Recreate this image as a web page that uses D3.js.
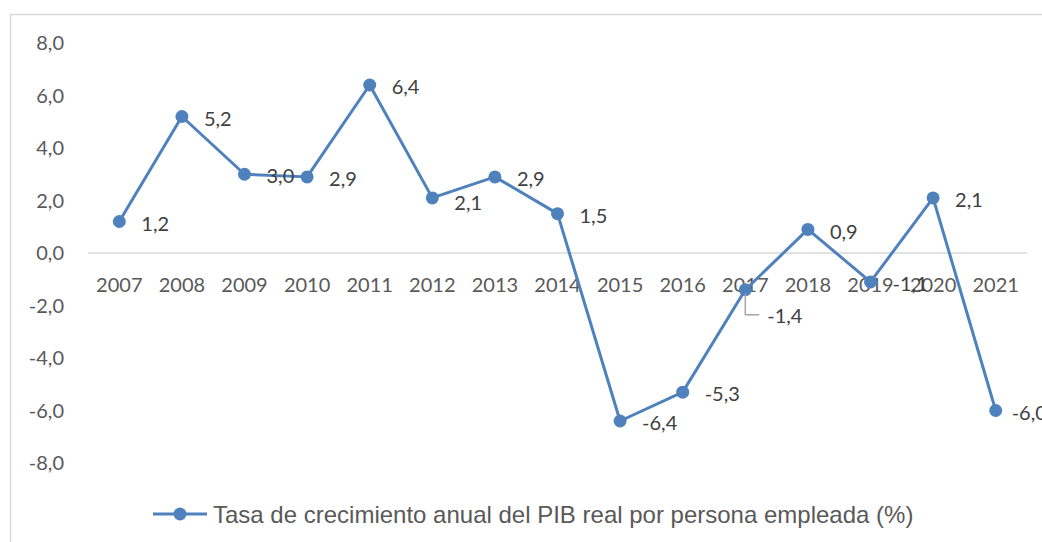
<!DOCTYPE html>
<html>
<head>
<meta charset="utf-8">
<script src="https://cdn.jsdelivr.net/npm/d3@7"></script>
<style>
  body { margin: 0; background: #fff; }
  svg { display: block; }
</style>
</head>
<body>
<svg id="chart" width="1042" height="542"></svg>
<script>
// data
const years = ['2007', '2008', '2009', '2010', '2011', '2012', '2013', '2014',
  '2015', '2016', '2017', '2018', '2019', '2020', '2021'];
const growth = [1.2, 5.2, 3.0, 2.9, 6.4, 2.1, 2.9, 1.5, -6.4, -5.3, -1.4, 0.9, -1.1, 2.1, -6.0];
const yTicks = [8, 6, 4, 2, 0, -2, -4, -6, -8];
const seriesName = 'Tasa de crecimiento anual del PIB real por persona empleada (%)';

const color = '#4f81bd';
const fmt = v => v.toFixed(1).replace('.', ',');

const svg = d3.select('#chart');

// outer chart border
svg.append('rect')
  .attr('x', 10.5).attr('y', 14.5)
  .attr('width', 1100).attr('height', 600)
  .attr('fill', 'none')
  .attr('stroke', '#d9d9d9')
  .attr('stroke-width', 1.5);

const x = d3.scaleBand().domain(years).range([88, 1027]);
const y = d3.scaleLinear().domain([-8, 8]).range([463, 43]);
const cx = d => x(d) + x.bandwidth() / 2;

// y labels
svg.append('g')
  .selectAll('text')
  .data(yTicks)
  .join('text')
  .attr('x', 64)
  .attr('y', d => y(d))
  .attr('dy', '0.36em')
  .attr('text-anchor', 'end')
  .attr('font-family', 'Lato, sans-serif')
  .attr('font-size', 20)
  .attr('fill', '#595959')
  .text(fmt);

// zero line
svg.append('line')
  .attr('x1', 88).attr('x2', 1027)
  .attr('y1', y(0)).attr('y2', y(0))
  .attr('stroke', '#d9d9d9')
  .attr('stroke-width', 1.5);

// category labels
svg.append('g')
  .selectAll('text')
  .data(years)
  .join('text')
  .attr('x', cx)
  .attr('y', y(0) + 32)
  .attr('dy', '0.36em')
  .attr('text-anchor', 'middle')
  .attr('font-family', 'Lato, sans-serif')
  .attr('font-size', 20)
  .attr('fill', '#595959')
  .text(d => d);

const pts = years.map((yr, i) => ({ yr, v: growth[i] }));

const line = d3.line()
  .x(d => cx(d.yr))
  .y(d => y(d.v));

svg.append('path')
  .datum(pts)
  .attr('d', line)
  .attr('fill', 'none')
  .attr('stroke', color)
  .attr('stroke-width', 3)
  .attr('stroke-linejoin', 'round');

svg.append('g')
  .selectAll('circle')
  .data(pts)
  .join('circle')
  .attr('cx', d => cx(d.yr))
  .attr('cy', d => y(d.v))
  .attr('r', 6.5)
  .attr('fill', color);

// leader line for 2017 label
const p17 = pts[10];
svg.append('path')
  .attr('d', `M${cx(p17.yr)},${y(p17.v) + 4}V${y(p17.v) + 25}H${cx(p17.yr) + 14}`)
  .attr('fill', 'none')
  .attr('stroke', '#a6a6a6')
  .attr('stroke-width', 1.5);

// data labels
svg.append('g')
  .selectAll('text')
  .data(pts)
  .join('text')
  .attr('x', (d, i) => cx(d.yr) + (i === 14 ? 16 : 22))
  .attr('y', (d, i) => y(d.v) + (i === 10 ? 26 : i === 5 ? 5 : 2))
  .attr('dy', '0.36em')
  .attr('font-family', 'Lato, sans-serif')
  .attr('font-size', 20)
  .attr('fill', '#404040')
  .text(d => fmt(d.v));

// legend
const lg = svg.append('g').attr('transform', 'translate(0,514)');
lg.append('line')
  .attr('x1', 153).attr('x2', 207)
  .attr('stroke', color).attr('stroke-width', 3);
lg.append('circle')
  .attr('cx', 180).attr('r', 6.5).attr('fill', color);
lg.append('text')
  .attr('x', 213)
  .attr('dy', '0.36em')
  .attr('font-family', '"Liberation Sans", Arial, sans-serif')
  .attr('font-size', 24)
  .attr('fill', '#595959')
  .text(seriesName);
</script>
</body>
</html>
